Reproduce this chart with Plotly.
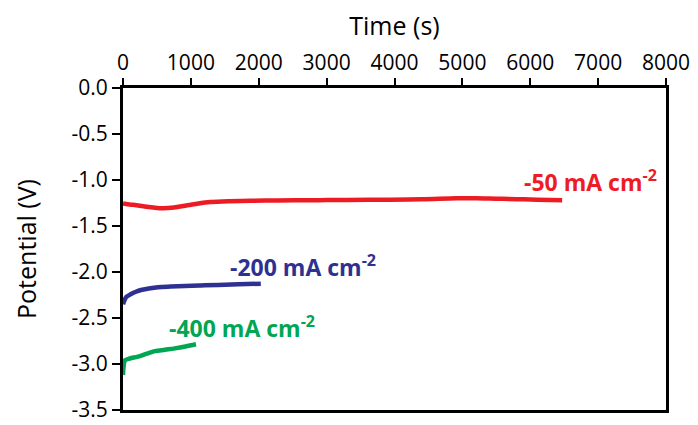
import plotly.graph_objects as go

# Data
t_50 = [0, 44, 150, 300, 450, 588, 750, 950, 1250, 1550, 1882, 2200, 2529, 2900, 3300, 3926, 4400, 4912, 5200, 5500, 5800, 6100, 6300, 6470]
v_50 = [-1.255, -1.261, -1.27, -1.285, -1.30, -1.308, -1.30, -1.275, -1.242, -1.232, -1.225, -1.223, -1.221, -1.219, -1.217, -1.214, -1.21, -1.199, -1.198, -1.203, -1.208, -1.214, -1.218, -1.221]

t_200 = [0, 20, 50, 118, 190, 265, 380, 515, 700, 912, 1150, 1400, 1700, 2030]
v_200 = [-2.35, -2.31, -2.27, -2.24, -2.215, -2.196, -2.18, -2.166, -2.158, -2.152, -2.146, -2.141, -2.134, -2.127]

t_400 = [0, 10, 30, 100, 220, 340, 470, 620, 765, 920, 1075]
v_400 = [-3.12, -3.02, -2.96, -2.94, -2.92, -2.89, -2.86, -2.845, -2.83, -2.81, -2.786]

labels = ["-50 mA cm<sup>-2</sup>", "-200 mA cm<sup>-2</sup>", "-400 mA cm<sup>-2</sup>"]
colors = ["#ED1C24", "#2E3192", "#00A651"]

x_ticks = [0, 1000, 2000, 3000, 4000, 5000, 6000, 7000, 8000]
y_ticks = [0.0, -0.5, -1.0, -1.5, -2.0, -2.5, -3.0, -3.5]
y_tick_labels = ["0.0", "-0.5", "-1.0", "-1.5", "-2.0", "-2.5", "-3.0", "-3.5"]

FONT = "Open Sans"

fig = go.Figure()
for t, v, c in [(t_50, v_50, colors[0]), (t_200, v_200, colors[1]), (t_400, v_400, colors[2])]:
    fig.add_trace(go.Scatter(x=t, y=v, mode="lines", line=dict(color=c, width=4.5, shape="spline"),
                             showlegend=False, hoverinfo="skip", cliponaxis=True))

fig.add_annotation(x=7900, y=-1.01, xref="x", yref="y", text=labels[0], showarrow=False,
                   xanchor="right", yanchor="middle", font=dict(family=FONT, size=23, color=colors[0], weight="bold"))
fig.add_annotation(x=1545, y=-1.93, xref="x", yref="y", text=labels[1], showarrow=False,
                   xanchor="left", yanchor="middle", font=dict(family=FONT, size=23, color=colors[1], weight="bold"))
fig.add_annotation(x=650, y=-2.6, xref="x", yref="y", text=labels[2], showarrow=False,
                   xanchor="left", yanchor="middle", font=dict(family=FONT, size=23, color=colors[2], weight="bold"))

fig.update_layout(
    width=690, height=417,
    margin=dict(l=115, r=32, t=80, b=15),
    paper_bgcolor="white", plot_bgcolor="white",
    font=dict(family=FONT, size=21, color="black"),
    xaxis=dict(range=[0, 8000], side="top", tickvals=x_ticks, ticks="outside", ticklen=7, tickwidth=2,
               tickcolor="black", showline=True, linecolor="black", linewidth=3, mirror=True,
               showgrid=False, zeroline=False, automargin=False,
               title=dict(text="Time (s)", standoff=10),
               tickfont=dict(family=FONT, size=21)),
    yaxis=dict(range=[-3.5, 0], tickvals=y_ticks, ticktext=y_tick_labels, ticks="outside", ticklen=8, tickwidth=2,
               tickcolor="black", showline=True, linecolor="black", linewidth=3, mirror=True,
               showgrid=False, zeroline=False, automargin=False,
               title=dict(text="Potential (V)", standoff=28),
               tickfont=dict(family=FONT, size=21)),
)

fig.write_html("out.html")
